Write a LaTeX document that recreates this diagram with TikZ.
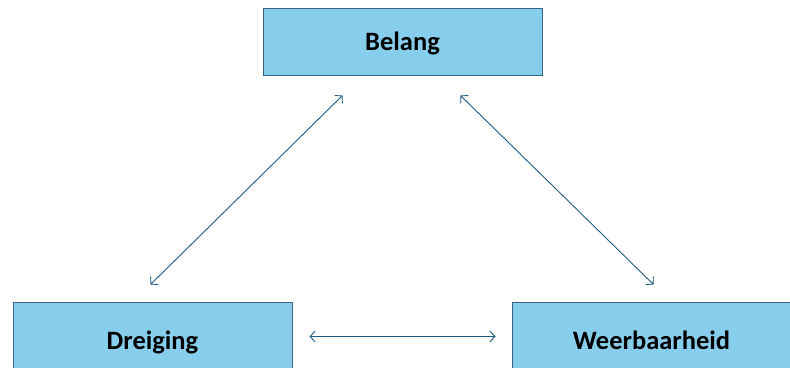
\documentclass[tikz,border=0pt]{standalone}
\usepackage{fontspec}
\setmainfont{Carlito}
\usetikzlibrary{arrows.meta}
\definecolor{boxfill}{RGB}{135,206,237}
\definecolor{boxline}{RGB}{55,100,135}
\definecolor{arrowc}{RGB}{30,92,130}
\begin{document}
\begin{tikzpicture}[x=1pt,y=1pt,
  concept/.style={draw=boxline,line width=1pt,fill=boxfill,minimum width=279pt,minimum height=67pt,inner sep=0pt,text height=17pt,text depth=0pt,font=\fontsize{26.5}{30}\selectfont\bfseries},
  link/.style={draw=arrowc,line width=0.9pt,{Straight Barb[length=5pt,width=11pt]}-{Straight Barb[length=5pt,width=11pt]}}]
\useasboundingbox (0,0) rectangle (790,367);
\begin{scope}
\clip (0,0) rectangle (790,367);
\node[concept] (b) at (402.5,324.5) {Belang};
\node[concept,minimum height=75pt] (d) at (152.5,26.5) {Dreiging};
\node[concept,minimum height=75pt] (w) at (651.5,26.5) {Weerbaarheid};
\end{scope}
\draw[link] ([xshift=138pt,yshift=18pt]d.north west) -- ([xshift=80pt,yshift=-19pt]b.south west);
\draw[link] ([xshift=198pt,yshift=-19pt]b.south west) -- ([xshift=142pt,yshift=18pt]w.north west);
\draw[link] ([xshift=17pt,yshift=4pt]d.east) -- ([xshift=-16pt,yshift=4pt]w.west);
\end{tikzpicture}
\end{document}
